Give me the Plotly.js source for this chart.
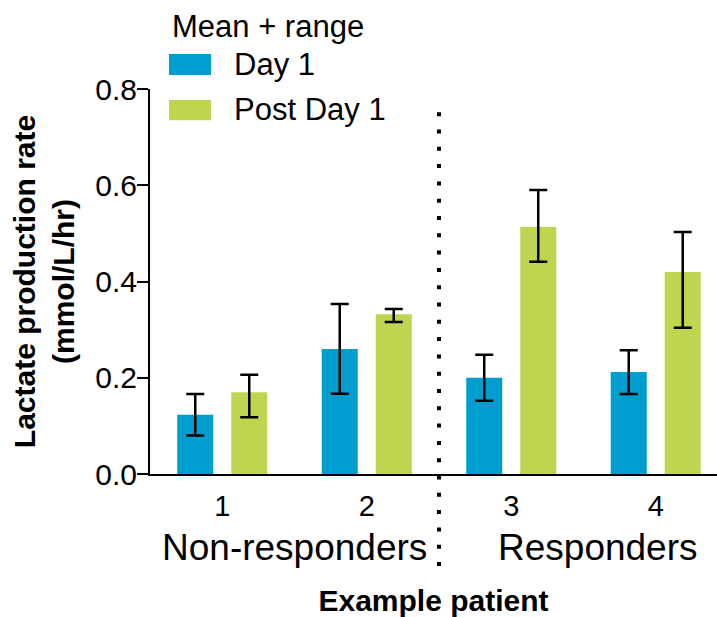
<!DOCTYPE html>
<html>
<head>
<meta charset="utf-8">
<script src="https://cdn.plot.ly/plotly-3.0.1.min.js"></script>
<style>html,body{margin:0;padding:0;background:#fff;}#chart{width:717px;height:617px;}</style>
</head>
<body>
<div id="chart"></div>
<script>
var patients = [1, 2, 3, 4];
var tickLabels = ['1', '2', '3', '4'];
var day1Mean = [0.123, 0.260, 0.200, 0.212];
var day1Low  = [0.080, 0.167, 0.152, 0.166];
var day1High = [0.166, 0.353, 0.248, 0.257];
var postMean = [0.170, 0.332, 0.513, 0.420];
var postLow  = [0.118, 0.316, 0.441, 0.304];
var postHigh = [0.206, 0.343, 0.590, 0.503];
var groupNames = ['Non-responders', 'Responders'];
var groupCenters = [1.5, 3.6];
var dividerX = 2.5;

var BLUE = '#009ECE', GREEN = '#C0D44F';
var FONT = 'Arial, "Liberation Sans", sans-serif';

function diff(a, b) { return a.map(function (v, i) { return +(v - b[i]).toFixed(4); }); }

var errStyle = {type: 'data', symmetric: false, color: '#000', thickness: 2.5, width: 9};

var traces = [
  {type: 'bar', name: 'Day 1', x: patients, y: day1Mean, marker: {color: BLUE},
   error_y: Object.assign({array: diff(day1High, day1Mean), arrayminus: diff(day1Mean, day1Low)}, errStyle)},
  {type: 'bar', name: 'Post Day 1', x: patients, y: postMean, marker: {color: GREEN},
   error_y: Object.assign({array: diff(postHigh, postMean), arrayminus: diff(postMean, postLow)}, errStyle)}
];

var annotations = groupNames.map(function (g, i) {
  return {text: g, x: groupCenters[i], xref: 'x', y: -0.19, yref: 'paper',
          showarrow: false, xanchor: 'center', yanchor: 'middle',
          font: {family: FONT, size: 37, color: '#000'}};
});
// legend (custom)
annotations.push({text: 'Mean + range', x: 0.036, xref: 'paper', y: 1.162, yref: 'paper', showarrow: false,
  xanchor: 'left', yanchor: 'middle', font: {family: FONT, size: 31, color: '#000'}});
annotations.push({text: traces[0].name, x: 0.145, xref: 'paper', y: 1.063, yref: 'paper', showarrow: false,
  xanchor: 'left', yanchor: 'middle', font: {family: FONT, size: 31, color: '#000'}});
annotations.push({text: traces[1].name, x: 0.145, xref: 'paper', y: 0.946, yref: 'paper', showarrow: false,
  xanchor: 'left', yanchor: 'middle', font: {family: FONT, size: 31, color: '#000'}});

var shapes = [
  {type: 'line', xref: 'x', x0: dividerX, x1: dividerX, yref: 'paper', y0: -0.239, y1: 0.943,
   line: {color: '#000', width: 4, dash: '4px,13.3px'}},
  {type: 'rect', xref: 'paper', yref: 'paper', x0: 0.0335, x1: 0.1076, y0: 1.0364, y1: 1.0909,
   fillcolor: BLUE, line: {width: 0}},
  {type: 'rect', xref: 'paper', yref: 'paper', x0: 0.0335, x1: 0.1076, y0: 0.919, y1: 0.9714,
   fillcolor: GREEN, line: {width: 0}}
];

var layout = {
  width: 717, height: 617,
  margin: {l: 150, r: 0, t: 89, b: 143},
  paper_bgcolor: '#fff', plot_bgcolor: '#fff',
  showlegend: false,
  barmode: 'group', bargap: 0.2526, bargroupgap: 0.333,
  font: {family: FONT, color: '#000'},
  xaxis: {
    range: [0.5, 4.424], tickvals: patients, ticktext: tickLabels,
    showgrid: false, zeroline: false, showline: true, linecolor: '#000', linewidth: 2,
    ticks: '', ticklabelstandoff: 5,
    tickfont: {family: FONT, size: 29, color: '#000'},
    title: {text: '<b>Example patient</b>', standoff: 75, font: {family: FONT, size: 30, color: '#000'}}
  },
  yaxis: {
    range: [0, 0.8], tickvals: [0, 0.2, 0.4, 0.6, 0.8], tickformat: '.1f',
    showgrid: false, zeroline: false, showline: true, linecolor: '#000', linewidth: 2,
    ticks: 'outside', ticklen: 11, tickwidth: 2, tickcolor: '#000', ticklabelstandoff: -6,
    tickfont: {family: FONT, size: 30, color: '#000'},
    title: {text: '<b>Lactate production rate<br>(mmol/L/hr)</b>', standoff: 12,
            font: {family: FONT, size: 30, color: '#000'}}
  },
  annotations: annotations,
  shapes: shapes
};

Plotly.newPlot('chart', traces, layout, {displayModeBar: false, staticPlot: true});
</script>
</body>
</html>
